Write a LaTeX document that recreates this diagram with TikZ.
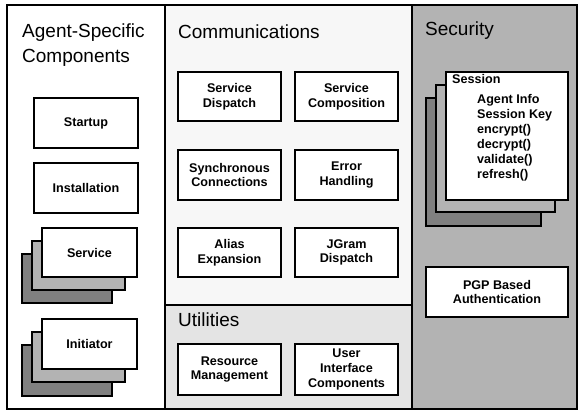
\documentclass[tikz,border=0pt]{standalone}
\usepackage{fontspec}
\setmainfont{Liberation Sans}
\definecolor{commfill}{HTML}{F7F7F7}
\definecolor{utilfill}{HTML}{E4E4E4}
\definecolor{secfill}{HTML}{B3B3B3}
\definecolor{layermid}{HTML}{B3B3B3}
\definecolor{layerdark}{HTML}{808080}
\begin{document}
\begin{tikzpicture}[x=1pt,y=-1pt,
  frameline/.style={line width=1.7pt},
  compbox/.style={draw, line width=1.8pt, fill=white, inner sep=0pt, align=center,
    font=\bfseries\fontsize{12.6}{14.8}\selectfont},
  titletext/.style={anchor=base west, inner sep=0pt, font=\fontsize{19}{22}\selectfont},
  itemtext/.style={anchor=base west, inner sep=0pt, font=\bfseries\fontsize{12.6}{14.8}\selectfont},
  midlayer/.style={draw, line width=1.8pt, fill=layermid},
  backlayer/.style={draw, line width=1.8pt, fill=layerdark}]
\useasboundingbox (0,0) rectangle (579,411);
% column backgrounds
\fill[white] (7,5) rectangle (165,409);
\fill[commfill] (165,5) rectangle (412,305);
\fill[utilfill] (165,305) rectangle (412,409);
\fill[secfill] (412,5) rectangle (577,409);
\draw[frameline] (7,5) rectangle (577,409);
\draw[frameline] (165,5) -- (165,409);
\draw[frameline] (412,5) -- (412,409);
\draw[frameline] (165,305) -- (412,305);
% titles
\node[titletext] (agenttitle1) at (22,38) {Agent-Specific};
\node[titletext] (agenttitle2) at (22,63) {Components};
\node[titletext] (commtitle) at (178,39) {Communications};
\node[titletext] (utiltitle) at (178,327) {Utilities};
\node[titletext] (sectitle) at (425,36) {Security};
% agent-specific components
\node[compbox, minimum width=104.5pt, minimum height=50.5pt] (startup) at (86,123) {Startup};
\node[compbox, minimum width=104.5pt, minimum height=50.5pt] (install) at (86,188) {Installation};
\draw[backlayer] (21.8,253.8) rectangle (112.2,303.2);
\draw[midlayer] (31.8,240.8) rectangle (125.2,290.2);
\node[compbox, minimum width=95.5pt, minimum height=49.5pt] (service) at (89.5,252.5) {Service};
\draw[backlayer] (21.8,344.8) rectangle (112.2,396.2);
\draw[midlayer] (31.8,331.8) rectangle (125.2,382.2);
\node[compbox, minimum width=95.5pt, minimum height=50.5pt] (initiator) at (89.5,344) {Initiator};
% communications
\node[compbox, minimum width=103.5pt, minimum height=49.5pt] (sdispatch) at (229.5,96.5) {Service\\Dispatch};
\node[compbox, minimum width=103.5pt, minimum height=49.5pt] (scompo) at (346.5,96.5) {Service\\Composition};
\node[compbox, minimum width=103.5pt, minimum height=50.5pt] (synconn) at (229.5,175) {Synchronous\\Connections};
\node[compbox, minimum width=103.5pt, minimum height=50.5pt] (errhand) at (346.5,175) {Error\\Handling};
\node[compbox, minimum width=103.5pt, minimum height=49.5pt] (alias) at (229.5,252.5) {Alias\\Expansion};
\node[compbox, minimum width=103.5pt, minimum height=49.5pt] (jgram) at (346.5,252.5) {JGram\\Dispatch};
% utilities
\node[compbox, minimum width=103.5pt, minimum height=51.5pt] (resmgmt) at (229.5,369.5) {Resource\\Management};
\node[compbox, minimum width=103.5pt, minimum height=51.5pt] (uicomp) at (346.5,369.5) {User\\Interface\\Components};
% security
\draw[backlayer] (425.8,97.8) rectangle (541.2,226.2);
\draw[midlayer] (435.8,84.8) rectangle (555.2,212.2);
\node[compbox, minimum width=122.5pt, minimum height=128.5pt] (session) at (507,136) {};
\node[itemtext] (sesslabel) at (452,84) {Session};
\node[itemtext] (agentinfo) at (477,104) {Agent Info};
\node[itemtext] (sesskey) at (477,119) {Session Key};
\node[itemtext] (encrypt) at (477,134) {encrypt()};
\node[itemtext] (decrypt) at (477,149) {decrypt()};
\node[itemtext] (validate) at (477,164) {validate()};
\node[itemtext] (refresh) at (477,179) {refresh()};
\node[compbox, minimum width=142.5pt, minimum height=50.5pt] (pgp) at (497,292) {PGP Based\\Authentication};
\end{tikzpicture}
\end{document}
